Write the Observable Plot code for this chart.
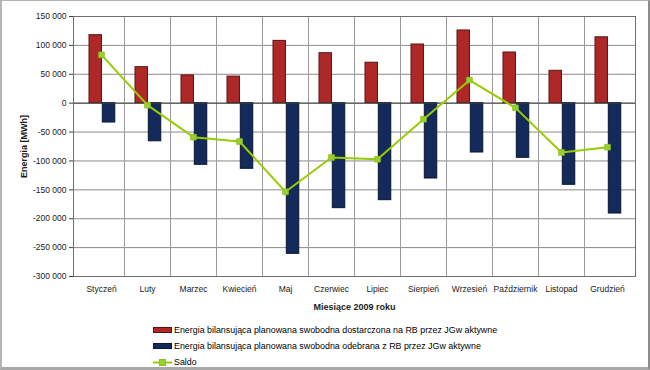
<!DOCTYPE html>
<html><head><meta charset="utf-8">
<script src="https://cdn.jsdelivr.net/npm/d3@7"></script>
<script src="https://cdn.jsdelivr.net/npm/@observablehq/plot@0.6"></script>
<style>
body{margin:0;background:#fff;}
#wrap{position:relative;width:650px;height:370px;overflow:hidden;font-family:"Liberation Sans",Arial,sans-serif;background:#fff;}
#frame{position:absolute;left:0;top:0;width:650px;height:370px;box-sizing:border-box;border-left:2px solid #b4b4b4;border-top:1px solid #b4b4b4;border-right:2px solid #8c8c8c;border-bottom:3px solid #a8a8a8;pointer-events:none;}
#chart{position:absolute;left:0;top:0;}
#chart svg [aria-label="x-axis label"], #chart svg [aria-label="y-axis label"]{font-weight:bold;font-size:9px;}
#legend{position:absolute;left:153px;top:322px;font-size:8.9px;color:#000;}
.item{display:flex;align-items:center;height:16px;white-space:nowrap;}
.item svg{margin-right:2px;}
</style></head>
<body>
<div id="wrap">
  <div id="chart"></div>
  <div id="legend"></div>
  <div id="frame"></div>
</div>
<script>
const months = ["Styczeń","Luty","Marzec","Kwiecień","Maj","Czerwiec","Lipiec","Sierpień","Wrzesień","Październik","Listopad","Grudzień"];
const dostarczona = [117700, 62300, 48000, 46000, 107800, 86500, 70000, 101500, 125800, 87700, 56000, 114000];
const odebrana = [-33500, -66000, -106700, -113600, -260800, -181700, -167900, -130400, -85400, -94600, -141300, -191000];
const saldo = [83600, -3500, -58800, -66400, -153400, -94000, -97000, -27700, 39800, -8100, -85400, -76200];
const yTicks = [-300000, -250000, -200000, -150000, -100000, -50000, 0, 50000, 100000, 150000];
const seriesNames = [
  "Energia bilansująca planowana swobodna dostarczona na RB przez JGw aktywne",
  "Energia bilansująca planowana swobodna odebrana z RB przez JGw aktywne",
  "Saldo"
];
const colors = {red:"#AE2828", redStroke:"#5a1212", navy:"#132A5B", navyStroke:"#0a1633", green:"#99CC00"};

const data = months.map((m, i) => ({m, d: dostarczona[i], o: odebrana[i], s: saldo[i]}));

const W = 650, H = 315, ML = 73, MR = 15, MT = 16, MB = 39;
const bw = (W - ML - MR) / months.length;
const gapL = 11, barW = 13.3;
const fmt = d => (d < 0 ? "-" : "") + d3.format(",")(Math.abs(d)).replace(/,/g, " ");

const chart = Plot.plot({
  width: W, height: H,
  marginLeft: ML, marginRight: MR, marginTop: MT, marginBottom: MB,
  style: {fontFamily: "'Liberation Sans', Arial, sans-serif", fontSize: "8.5px", color: "#1a1a1a", background: "transparent"},
  x: {domain: months, padding: 0},
  y: {domain: [-300000, 150000]},
  marks: [
    Plot.gridY(yTicks, {stroke: "#8a8a8a", strokeOpacity: 1}),
    Plot.ruleX(months.slice(1), {stroke: "#9a9a9a", dx: -bw / 2, shapeRendering: "crispEdges"}),
    Plot.barY(data, {x: "m", y: "d", fill: colors.red, stroke: colors.redStroke, strokeWidth: 1, insetLeft: gapL, insetRight: bw - gapL - barW}),
    Plot.barY(data, {x: "m", y: "o", fill: colors.navy, stroke: colors.navyStroke, strokeWidth: 1, insetLeft: gapL + barW, insetRight: bw - gapL - 2 * barW}),
    Plot.ruleY([0], {stroke: "#404040"}),
    Plot.frame({stroke: "#6e6e6e"}),
    Plot.axisY(yTicks, {tickFormat: fmt, tickSize: 4, tickPadding: 3, label: "Energia [MWh]", labelAnchor: "center", labelOffset: 53, labelArrow: "none", stroke: "#404040"}),
    Plot.axisX({tickSize: 0, tickPadding: 9, label: "Miesiące 2009 roku", labelAnchor: "center", labelOffset: 33, labelArrow: "none"}),
    Plot.line(data, {x: "m", y: "s", stroke: colors.green, strokeWidth: 2}),
    Plot.dot(data, {x: "m", y: "s", symbol: "square", r: 3.2, fill: "#9ACD32", stroke: "#8cbf1a", strokeWidth: 0.8})
  ]
});
document.getElementById("chart").appendChild(chart);

const legend = document.getElementById("legend");
const swatches = [
  `<svg width="19" height="6"><rect x="0.5" y="0.5" width="18" height="5" fill="${colors.red}" stroke="${colors.redStroke}"/></svg>`,
  `<svg width="19" height="6"><rect x="0.5" y="0.5" width="18" height="5" fill="${colors.navy}" stroke="${colors.navyStroke}"/></svg>`,
  `<svg width="19" height="7"><line x1="0" x2="19" y1="3.5" y2="3.5" stroke="${colors.green}" stroke-width="2"/><rect x="6.5" y="0.5" width="6" height="6" fill="#9ACD32" stroke="#8cbf1a"/></svg>`
];
seriesNames.forEach((name, i) => {
  const div = document.createElement("div");
  div.className = "item";
  div.innerHTML = swatches[i];
  const span = document.createElement("span");
  span.textContent = name;
  div.appendChild(span);
  legend.appendChild(div);
});
</script>
</body></html>
